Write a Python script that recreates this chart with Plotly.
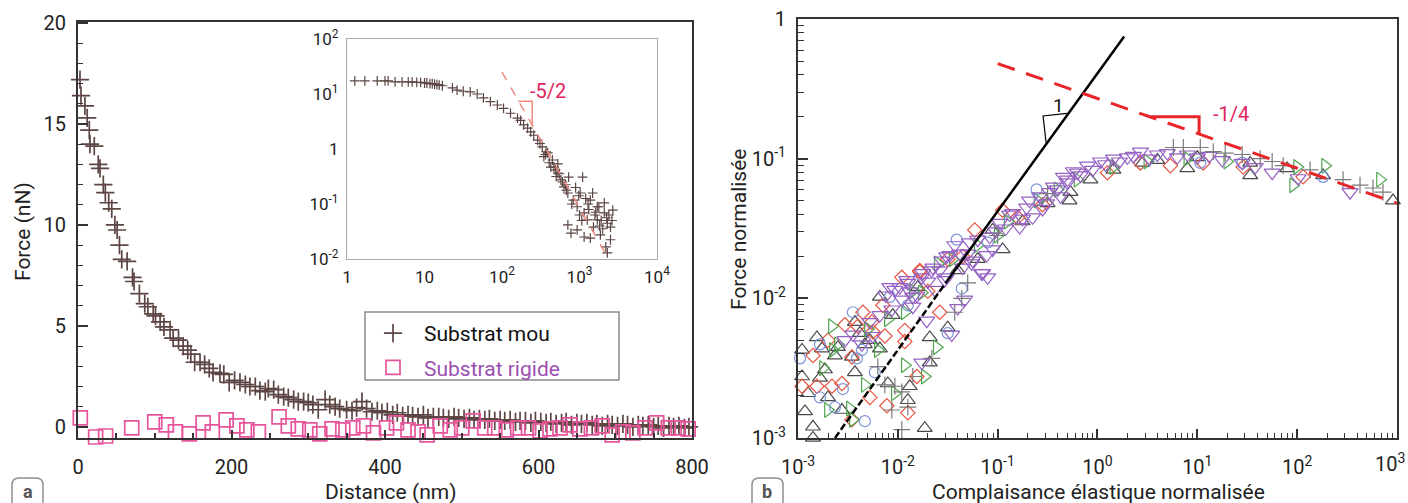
import plotly.graph_objects as go

W, H = 1408, 503

# ---------------- Panel a : main plot ----------------
soft_x = [2.6, 3.9, 9, 12, 14.7, 15.6, 21.2, 26.4, 28.7, 33, 35.6, 40, 44, 48, 51, 54,
          57, 64, 71, 73, 80, 87, 91, 98, 101, 107,
          112, 120, 124, 131, 137, 143, 147, 152, 159, 165,
          171, 176, 185, 190, 197, 204, 211, 218, 224, 231,
          237, 244, 248, 255, 261, 268, 274, 281, 287, 294,
          300, 306, 313, 322, 328, 335, 341, 350,
          357, 363, 370, 376, 383, 390, 396, 403, 410, 416,
          423, 430, 436, 443, 450, 456, 463, 470, 476, 483,
          490, 496, 503, 510, 516, 523, 530, 536, 543, 550,
          556, 563, 570, 576, 583, 590, 596, 603, 610, 616,
          623, 630, 636, 643, 650, 656, 663, 670, 676, 683,
          690, 696, 703, 710, 716, 723, 730, 736, 743, 750,
          756, 763, 770, 776, 783, 790, 796]
soft_y = [17.2, 16.4, 15.9, 15.3, 14.7, 14.0, 13.9, 13.0, 12.8, 12.0, 11.6, 11.1, 10.8, 10.0, 9.75, 9.0,
          8.3, 8.2, 7.4, 7.2, 6.6, 6.1, 5.95, 5.6, 5.5, 5.2,
          4.95, 4.8, 4.4, 4.3, 4.0, 3.8, 3.6, 3.2, 3.2, 3.1,
          2.9, 2.7, 2.65, 2.6, 2.2, 2.3, 2.2, 2.1, 2.0, 2.0,
          1.8, 1.75, 1.9, 1.85, 1.6, 1.5, 1.45, 1.35, 1.25, 1.25,
          1.2, 1.1, 0.85, 1.35, 1.1, 1.0, 0.9, 0.85,
          0.8, 0.95, 1.25, 0.9, 0.75, 0.8, 0.7, 0.75, 0.6, 0.7,
          0.55, 0.6, 0.55, 0.5, 0.6, 0.45, 0.5, 0.5, 0.45, 0.4,
          0.5, 0.45, 0.4, 0.45, 0.35, 0.4, 0.35, 0.4, 0.3, 0.35,
          0.3, 0.35, 0.25, 0.3, 0.3, 0.2, 0.3, 0.25, 0.2, 0.25,
          0.15, 0.2, 0.25, 0.1, 0.2, 0.15, 0.2, 0.1, 0.15, 0.05,
          0.15, 0.1, 0.05, 0.15, 0.1, 0.0, 0.1, 0.05, 0.1, 0.0,
          0.05, -0.05, 0.05, 0.0, 0.05, -0.05, 0.0]

rigid_x = [3, 23, 36, 70, 100, 115, 127, 145, 163, 175,
           193, 207, 220, 235, 262, 274, 287, 302, 315, 331,
           345, 358, 372, 385, 402, 415, 430, 443, 455, 472,
           485, 500, 515, 530, 543, 558, 573, 587, 602, 615,
           628, 641, 654, 669, 683, 696, 710, 723, 739, 754,
           769, 782, 795]
rigid_y = [0.45, -0.5, -0.45, -0.05, 0.25, 0.1, -0.25, -0.35, 0.2, -0.25,
           0.35, 0.05, -0.15, -0.25, 0.5, 0.05, -0.1, -0.15, -0.35, -0.1,
           -0.15, -0.05, 0.05, -0.3, -0.05, 0.2, -0.15, -0.25, -0.4, 0.05,
           -0.15, -0.05, 0.3, -0.05, -0.05, -0.15, -0.05, -0.05, -0.2, -0.1,
           -0.05, 0.1, -0.1, -0.05, 0.05, -0.4, -0.25, -0.3, -0.05, 0.2,
           -0.05, -0.05, -0.1]

# ---------------- Panel a : inset (log10 of distance / force) ----------------
inset_log_d = [0.10, 0.23, 0.39, 0.49, 0.53, 0.62, 0.71, 0.79, 0.84, 0.90,
               0.95, 1.00, 1.03, 1.07, 1.10, 1.13, 1.16, 1.19, 1.23, 1.36,
               1.42, 1.50, 1.59, 1.68, 1.76, 1.85, 1.94, 2.02, 2.11, 2.20,
               2.28, 2.37, 2.46, 2.52, 2.54, 2.59, 2.63, 2.65, 2.67, 2.72,
               2.72, 2.76, 2.80, 2.85, 2.86, 2.85, 2.89, 2.92, 2.97, 2.97,
               3.01, 3.04, 3.06, 3.06, 3.10, 3.14, 3.14, 3.17, 3.18, 3.23,
               3.23, 3.25, 3.27, 3.32, 3.32, 3.34, 3.36, 3.36, 3.40, 3.40,
               3.43, 2.56, 2.61, 2.69, 2.78, 2.83, 2.95, 3.00, 3.08, 3.12,
               3.20, 3.28, 3.38, 3.30, 2.24, 2.33, 2.41, 2.49, 2.57, 2.70,
               2.74, 2.82, 2.90, 2.99, 3.03, 3.11, 3.21, 3.26, 3.35, 3.42]
inset_log_f = [1.24, 1.24, 1.24, 1.24, 1.24, 1.22, 1.22, 1.22, 1.22, 1.21,
               1.21, 1.20, 1.20, 1.19, 1.19, 1.18, 1.17, 1.16, 1.15, 1.11,
               1.07, 1.05, 1.04, 1.00, 0.93, 0.86, 0.80, 0.74, 0.65, 0.56,
               0.44, 0.31, 0.16, 0.04, -0.14, -0.07, -0.33, -0.20, -0.33, -0.44,
               -0.27, -0.56, -0.69, -0.80, -0.51, -1.38, -1.53, -0.93, -1.05, -1.47,
               -0.80, -0.51, -1.16, -1.60, -1.29, -0.93, -1.62, -0.80, -1.42, -1.05,
               -1.29, -1.05, -1.56, -1.16, -0.98, -1.78, -1.35, -1.89, -1.65, -1.42,
               -1.11, -0.10, -0.25, -0.38, -0.60, -0.75, -0.70, -1.20, -0.90, -1.10,
               -1.20, -1.30, -1.20, -1.45, 0.52, 0.38, 0.25, 0.10, -0.05, -0.50,
               -0.45, -0.65, -1.00, -0.85, -1.30, -1.00, -1.15, -1.40, -1.25, -1.30]

inset_slope_d = [100, 2290]          # -5/2 guide line
inset_slope_f = [25.1, 0.011]

# ---------------- Panel b (log10 of normalised compliance / force) ----------------
tri_up_lc = [-2.85, -2.93, -2.90, -2.96, -2.81, -2.96, -2.76, -2.73, -2.78, -2.70,
             -2.63, -2.56, -2.43, -2.46, -2.33, -2.43, -2.18, -2.10, -1.88, -1.90,
             -1.68, -1.68, -1.50, -1.73, -2.85, -2.28, -2.18, -0.95, -0.28, -1.05,
             -0.27, -0.07, 0.16, 0.45, 0.60, 0.90, 1.00, 1.53, 1.53, 1.90,
             2.26, 2.96, -1.20, -0.50, -2.60, -2.38, -2.05, -1.80, -1.40, -0.75]
tri_up_lf = [-2.92, -2.81, -2.68, -2.56, -2.28, -2.37, -2.36, -2.51, -2.57, -2.71,
             -2.41, -2.80, -2.53, -2.42, -2.33, -2.17, -1.99, -2.61, -2.63, -2.73,
             -2.28, -2.46, -2.21, -2.93, -3.00, -2.30, -2.36, -1.65, -1.30, -1.51,
             -1.24, -1.15, -1.08, -1.03, -1.01, -1.07, -0.99, -1.03, -1.12, -1.07,
             -1.12, -1.30, -1.72, -1.32, -2.35, -2.25, -2.12, -1.92, -1.80, -1.45]

diam_lc = [-2.96, -2.81, -2.85, -2.66, -2.56, -2.53, -2.35, -2.26, -2.25, -2.46,
           -2.28, -2.11, -1.96, -1.93, -1.81, -1.90, -1.78, -1.58, -2.46, -1.93,
           -2.13, -1.23, -0.95, -0.55, -1.50, -1.78, 0.10, 0.43, 0.73, 1.06,
           1.46, 2.06, -2.70, -2.40, -2.15, -1.70, -1.35, -0.80]
diam_lf = [-2.63, -2.63, -2.41, -2.63, -2.61, -2.19, -2.10, -2.17, -2.24, -2.42,
           -2.71, -2.77, -1.85, -2.23, -2.56, -2.82, -1.81, -2.10, -2.87, -2.31,
           -2.27, -1.51, -1.37, -1.33, -1.72, -1.80, -1.10, -1.03, -1.05, -1.03,
           -1.06, -1.13, -2.30, -2.20, -2.05, -1.95, -1.70, -1.42]

tri_r_lc = [-2.66, -2.75, -2.70, -2.60, -2.48, -2.33, -2.20, -2.45, -2.03, -1.93,
            -1.73, -1.61, -1.60, -1.76, -1.93, -2.65, -1.20, -0.90, -0.60, -0.20,
            0.16, 0.50, 0.90, 1.30, 1.96, 2.00, 2.28, 2.83, -2.30, -2.10,
            -1.85, -1.45, -1.00, -0.40]
tri_r_lf = [-2.20, -2.50, -2.80, -2.33, -2.79, -2.62, -2.37, -2.87, -2.68, -2.48,
            -2.56, -2.35, -1.75, -1.96, -2.10, -2.37, -1.62, -1.45, -1.30, -1.15,
            -1.06, -1.02, -1.00, -1.02, -1.19, -1.06, -1.05, -1.15, -2.22, -2.15,
            -1.95, -1.72, -1.55, -1.22]

circ_lc = [-2.98, -2.78, -2.63, -2.41, -2.45, -2.36, -2.23, -2.33, -2.08, -1.50,
           -1.36, -2.78, -1.41, -0.61, 1.03, 1.45, 2.26, -2.55, -1.90, -1.10]
circ_lf = [-2.43, -2.71, -2.78, -2.43, -2.10, -2.37, -2.53, -2.88, -1.99, -2.25,
           -1.93, -2.33, -1.58, -1.22, -1.03, -1.03, -1.13, -2.65, -2.05, -1.60]

tri_dn_lc = [-2.45, -2.28, -2.25, -2.06, -2.03, -1.96, -1.90, -1.85, -1.76, -1.81,
             -1.76, -1.71, -1.66, -1.63, -1.56, -1.53, -1.46, -1.40, -1.33, -1.26,
             -1.16, -1.10, -1.48, -2.36, -2.53, -1.11,
             -2.08, -1.91, -1.75, -1.65, -1.51, -1.38, -1.28, -1.15, -1.08, -0.98,
             -0.85, -0.71, -0.58, -0.44, -0.30, -0.20, -1.51, -1.35, -1.85, -1.25,
             -1.05, -0.78, -0.65, -0.51, -0.37,
             -0.34, -0.24, -0.10, 0.03, 0.16, 0.30, 0.43, 0.60, 0.80, 1.00,
             1.25, 1.45, 1.75, 2.01, 2.53, -0.30, -0.17,
             -2.18, -2.12, -1.98, -1.88, -1.70, -1.58, -1.43, -1.30, -1.20, -1.02,
             -0.92, -0.88, -0.75, -0.68, -0.55, -0.48, -0.40, -0.05, 0.08, 0.22,
             0.36, 0.52, 0.70, 0.90, 1.12, 1.58]
tri_dn_lf = [-2.26, -2.17, -2.27, -2.08, -1.94, -2.01, -1.89, -2.06, -2.46, -1.98,
             -1.85, -2.16, -1.80, -1.94, -1.73, -1.87, -2.26, -2.07, -2.01, -1.75,
             -1.82, -1.85, -1.69, -2.33, -2.30, -1.69,
             -1.92, -1.87, -1.82, -1.78, -1.70, -1.68, -1.60, -1.82, -1.56, -1.46,
             -1.39, -1.35, -1.27, -1.20, -1.15, -1.10, -1.85, -1.78, -1.99, -1.73,
             -1.65, -1.49, -1.42, -1.32, -1.27,
             -1.13, -1.09, -1.05, -1.02, -1.00, -0.99, -0.95, -0.97, -0.99, -0.99,
             -1.01, -1.03, -1.10, -1.14, -1.24, -1.17, -1.12,
             -2.12, -1.98, -1.92, -1.95, -1.88, -1.80, -1.62, -1.68, -1.58, -1.52,
             -1.50, -1.40, -1.43, -1.30, -1.36, -1.24, -1.22, -1.08, -1.04, -1.02,
             -0.98, -1.00, -0.96, -0.97, -0.98, -1.06]

cross_lc = [0.76, 0.86, 1.03, 1.16, 1.28, 1.45, 1.63, 1.75, 1.86, 2.13,
            2.46, 2.63, 2.76, 2.86, -2.20, -2.13, -2.03, -1.96, -1.90, -1.96,
            -1.66, -1.43, -1.36, -1.85, -2.06, -1.30, -1.00, -0.50]
cross_lf = [-0.92, -0.92, -0.92, -0.95, -0.96, -0.97, -1.00, -1.02, -1.05, -1.08,
            -1.15, -1.19, -1.21, -1.24, -2.49, -2.62, -2.63, -2.67, -2.78, -2.94,
            -2.43, -2.10, -2.00, -2.56, -2.80, -1.89, -1.55, -1.25]

# guide lines panel b
slope_one_c_dash = [0.00235, 0.03]
slope_one_f_dash = [0.001, 0.0128]
slope_one_c = [0.03, 1.85]
slope_one_f = [0.0128, 0.75]
quarter_c = [0.1, 1000]
quarter_f = [0.48, 0.048]


def p(v):
    return [10 ** t for t in v]


BROWN = "#5c4543"
PINK = "#e6559b"
FONT = "Roboto"
AX = "#333333"

fig = go.Figure()

# ---- panel a main
fig.add_trace(go.Scatter(x=soft_x, y=soft_y, mode="markers", name="Substrat mou",
                         legendgroup="g1", cliponaxis=False,
                         marker=dict(symbol="cross-thin", size=13, line=dict(color=BROWN, width=1.7)),
                         xaxis="x", yaxis="y"))
fig.add_trace(go.Scatter(x=rigid_x, y=rigid_y, mode="markers",
                         name="<span style='color:#9b4fb0'>Substrat rigide</span>",
                         legendgroup="g2", cliponaxis=False,
                         marker=dict(symbol="square-open", size=14, color=PINK, line=dict(color=PINK, width=1.7)),
                         xaxis="x", yaxis="y"))

# ---- inset
fig.add_trace(go.Scatter(x=p(inset_log_d), y=p(inset_log_f), mode="markers", showlegend=False,
                         marker=dict(symbol="cross-thin", size=7, line=dict(color=BROWN, width=1.2)),
                         xaxis="x3", yaxis="y3"))
fig.add_trace(go.Scatter(x=inset_slope_d, y=inset_slope_f, mode="lines", showlegend=False,
                         line=dict(color="#f08a80", width=1.5, dash="dash"), xaxis="x3", yaxis="y3"))
fig.add_trace(go.Scatter(x=[10 ** 2.21, 10 ** 2.39, 10 ** 2.39], y=[10 ** 0.87, 10 ** 0.87, 10 ** 0.42],
                         mode="lines", showlegend=False,
                         line=dict(color="#f08a80", width=1.5), xaxis="x3", yaxis="y3"))

# ---- panel b scatter
series = [
    (tri_up_lc, tri_up_lf, "triangle-up-open", "#4a4a4a", 13),
    (diam_lc, diam_lf, "diamond-open", "#e8553f", 11),
    (tri_r_lc, tri_r_lf, "triangle-right-open", "#4fa64f", 13),
    (circ_lc, circ_lf, "circle-open", "#7b93d9", 11),
    (tri_dn_lc, tri_dn_lf, "triangle-down-open", "#9561c4", 14),
    (cross_lc, cross_lf, "cross-thin-open", "#7a7a7a", 12),
]
for lc, lf, sym, col, sz in series:
    fig.add_trace(go.Scatter(x=p(lc), y=p(lf), mode="markers", showlegend=False, cliponaxis=False,
                             marker=dict(symbol=sym, size=sz, color=col, line=dict(color=col, width=1.2)),
                             xaxis="x2", yaxis="y2"))

fig.add_trace(go.Scatter(x=slope_one_c_dash, y=slope_one_f_dash, mode="lines", showlegend=False,
                         line=dict(color="black", width=2.5, dash="7px,3px"), xaxis="x2", yaxis="y2"))
fig.add_trace(go.Scatter(x=slope_one_c, y=slope_one_f, mode="lines", showlegend=False,
                         line=dict(color="black", width=2.5), xaxis="x2", yaxis="y2"))
fig.add_trace(go.Scatter(x=[10 ** -0.515, 10 ** -0.545, 10 ** -0.305],
                         y=[10 ** -0.885, 10 ** -0.694, 10 ** -0.675],
                         mode="lines", showlegend=False,
                         line=dict(color="black", width=1.2), xaxis="x2", yaxis="y2"))
fig.add_trace(go.Scatter(x=quarter_c, y=quarter_f, mode="lines", showlegend=False,
                         line=dict(color="#e8262a", width=3, dash="18px,12px"), xaxis="x2", yaxis="y2"))
fig.add_trace(go.Scatter(x=[10 ** 0.537, 10 ** 1.018, 10 ** 1.018], y=[10 ** -0.70, 10 ** -0.70, 10 ** -0.82],
                         mode="lines", showlegend=False,
                         line=dict(color="#e8262a", width=3), xaxis="x2", yaxis="y2"))


def fx(px):
    return px / W


def fy(py):
    return 1 - py / H


tickfont = dict(family=FONT, size=20, color="#222")
common = dict(showgrid=False, zeroline=False, showline=True, linecolor=AX, linewidth=2,
              mirror=True, ticks="inside", tickcolor=AX, tickwidth=2, tickfont=tickfont,
              automargin=False)

sup_x = ["10<sup>-3</sup>", "10<sup>-2</sup>", "10<sup>-1</sup>", "10<sup>0</sup>",
         "10<sup>1</sup>", "10<sup>2</sup>", ""]
last_x_label = "10<sup>3</sup>"
sup_y = ["10<sup>-3</sup>", "10<sup>-2</sup>", "10<sup>-1</sup>", "1"]
minor_x = [m * 10 ** e for e in range(-3, 3) for m in range(2, 10)]
minor_y = [m * 10 ** e for e in range(-3, 0) for m in range(2, 10)]

inset_common = dict(showgrid=False, zeroline=False, showline=True, linecolor="#aaaaaa", linewidth=1.2,
                    mirror=True, ticks="", automargin=False,
                    tickfont=dict(family=FONT, size=17, color="#222"))

fig.update_layout(
    width=W, height=H, margin=dict(l=0, r=0, t=0, b=0),
    paper_bgcolor="white", plot_bgcolor="rgba(0,0,0,0)",
    font=dict(family=FONT, size=20, color="#222"),
    xaxis=dict(domain=[fx(78), fx(692)], range=[0, 800], anchor="y",
               tickvals=[0, 200, 400, 600, 800], ticklen=8, ticklabelstandoff=10,
               minor=dict(dtick=50, ticks="inside", ticklen=5, tickcolor=AX, tickwidth=1.5), **common),
    yaxis=dict(domain=[fy(438), fy(22)], range=[-0.55, 20.05], anchor="x",
               tickvals=[0, 5, 10, 15, 20], ticklen=10, ticklabelstandoff=6,
               minor=dict(dtick=1, ticks="inside", ticklen=5, tickcolor=AX, tickwidth=1.2), **common),
    xaxis2=dict(domain=[fx(798), fx(1397)], type="log", range=[-3, 3.0005], anchor="y2",
                tickvals=[10 ** e for e in range(-3, 4)], ticktext=sup_x, ticklen=9, ticklabelstandoff=10,
                minor=dict(tickvals=minor_x, ticks="inside", ticklen=5, tickcolor=AX, tickwidth=1.2), **common),
    yaxis2=dict(domain=[fy(438), fy(19)], type="log", range=[-3.0005, 0.0005], anchor="x2",
                tickvals=[10 ** e for e in range(-3, 1)], ticktext=sup_y, ticklen=10, ticklabelstandoff=6,
                minor=dict(tickvals=minor_y, ticks="inside", ticklen=6, tickcolor=AX, tickwidth=1.2), **common),
    xaxis3=dict(domain=[fx(347), fx(657)], type="log", range=[-0.0005, 4.0005], anchor="y3",
                tickvals=[1, 10, 100, 1000, 10000],
                ticktext=["1", "10", "10<sup>2</sup>", "10<sup>3</sup>", "10<sup>4</sup>"],
                ticklabelstandoff=2, **inset_common),
    yaxis3=dict(domain=[fy(259), fy(39)], type="log", range=[-2.0005, 2.0005], anchor="x3",
                tickvals=[0.01, 0.1, 1, 10, 100],
                ticktext=["10<sup>-2</sup>", "10<sup>-1</sup>", "1", "10<sup>1</sup>", "10<sup>2</sup>"],
                ticklabelstandoff=4, **inset_common),
    legend=dict(x=fx(362), y=fy(313), xanchor="left", yanchor="top", bgcolor="rgba(0,0,0,0)",
                borderwidth=0, font=dict(family=FONT, size=21, color="#111"),
                tracegroupgap=4, itemwidth=52),
    showlegend=True,
)


def rounded_box(x0, y0, x1, y1, r):
    return (f"M {fx(x0)},{fy(y1)} L {fx(x0)},{fy(y0 + r)} Q {fx(x0)},{fy(y0)} {fx(x0 + r)},{fy(y0)} "
            f"L {fx(x1 - r)},{fy(y0)} Q {fx(x1)},{fy(y0)} {fx(x1)},{fy(y0 + r)} L {fx(x1)},{fy(y1)}")


shapes = [
    dict(type="rect", xref="paper", yref="paper", x0=fx(365), x1=fx(619), y0=fy(380), y1=fy(312),
         line=dict(color="#8a8a8a", width=1.5), fillcolor="rgba(0,0,0,0)"),
    dict(type="path", xref="paper", yref="paper", path=rounded_box(12, 478, 43, 512, 7),
         line=dict(color="#8f8f8f", width=1.5)),
    dict(type="path", xref="paper", yref="paper", path=rounded_box(752, 478, 783, 512, 7),
         line=dict(color="#8f8f8f", width=1.5)),
]
fig.update_layout(shapes=shapes)

ann = [
    dict(text="Force (nN)", x=fx(23), y=fy(232), textangle=-90, font=dict(size=21)),
    dict(text="Distance (nm)", x=fx(390), y=fy(492), font=dict(size=21)),
    dict(text="Force normalisée", x=fx(739), y=fy(230), textangle=-90, font=dict(size=21)),
    dict(text="Complaisance élastique normalisée", x=fx(1098), y=fy(492), font=dict(size=21)),
    dict(text="<b>a</b>", x=fx(27.5), y=fy(491), font=dict(size=18, color="#555")),
    dict(text="<b>b</b>", x=fx(767.5), y=fy(491), font=dict(size=18, color="#555")),
]
for a in ann:
    a.update(xref="paper", yref="paper", showarrow=False, xanchor="center", yanchor="middle")
    a["font"] = dict(family=FONT, color=a["font"].get("color", "#222"), size=a["font"]["size"])

ann += [
    dict(text=last_x_label, x=fx(1407), y=fy(463), xref="paper", yref="paper", showarrow=False,
         xanchor="right", yanchor="middle", font=dict(family=FONT, size=20, color="#222")),
    dict(text="-5/2", x=2.59, y=1.05, xref="x3", yref="y3", showarrow=False,
         font=dict(family=FONT, size=20, color="#e0245e")),
    dict(text="1", x=-0.395, y=-0.616, xref="x2", yref="y2", showarrow=False,
         font=dict(family=FONT, size=19, color="#111")),
    dict(text="-1/4", x=1.34, y=-0.68, xref="x2", yref="y2", showarrow=False,
         font=dict(family=FONT, size=20, color="#e0245e")),
]
fig.update_layout(annotations=ann)

fig.write_html("out.html")
